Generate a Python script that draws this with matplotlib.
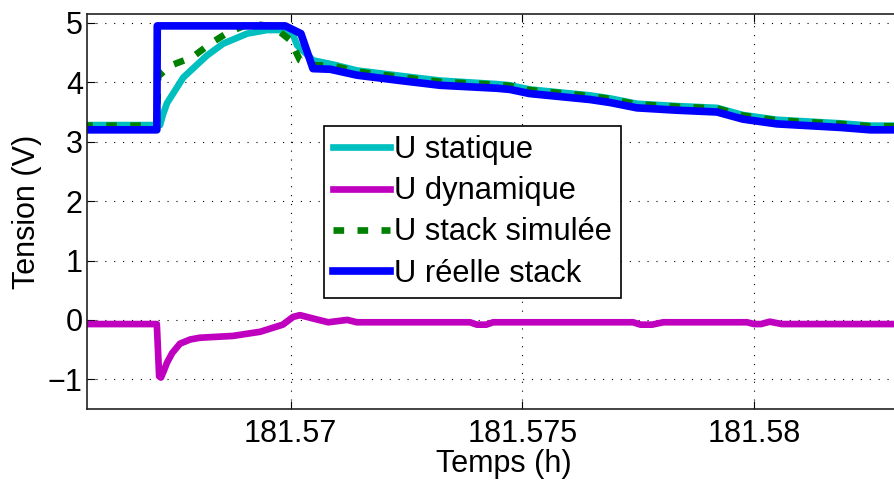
import matplotlib.pyplot as plt

plt.rcParams['font.family'] = ['Liberation Sans', 'DejaVu Sans']

t_reel = [181.5655, 181.56711, 181.56712, 181.56988, 181.57022, 181.57048, 181.57085,
          181.57143, 181.57236, 181.57322, 181.57445, 181.57473, 181.57516, 181.57646,
          181.57689, 181.57747, 181.57834, 181.57920, 181.57976, 181.58049, 181.58186,
          181.58251, 181.58360]
u_reel = [3.20, 3.20, 4.95, 4.95, 4.82, 4.23, 4.22,
          4.12, 4.03, 3.95, 3.90, 3.88, 3.81, 3.71,
          3.66, 3.57, 3.53, 3.50, 3.38, 3.30, 3.24,
          3.20, 3.20]

t_stat = [181.5655, 181.56718, 181.56724, 181.56733, 181.56768, 181.56819, 181.56854,
          181.56906, 181.56949, 181.56977, 181.57005, 181.57014, 181.57042, 181.57048,
          181.57091, 181.57143, 181.57236, 181.57322, 181.57445, 181.57473, 181.57516,
          181.57646, 181.57689, 181.57747, 181.57834, 181.57920, 181.57976, 181.58049,
          181.58186, 181.58251, 181.58360]
u_stat = [3.28, 3.28, 3.45, 3.65, 4.08, 4.45, 4.65,
          4.82, 4.88, 4.88, 4.80, 4.62, 4.42, 4.37,
          4.30, 4.20, 4.11, 4.03, 3.97, 3.95, 3.88,
          3.78, 3.73, 3.64, 3.60, 3.57, 3.45, 3.37,
          3.31, 3.27, 3.27]

t_sim = [181.5655, 181.56711, 181.56714, 181.56740, 181.56787, 181.56830, 181.56865,
         181.56912, 181.56962, 181.56999, 181.57020, 181.57042, 181.57091, 181.57143,
         181.57236, 181.57322, 181.57445, 181.57473, 181.57516, 181.57646, 181.57689,
         181.57747, 181.57834, 181.57920, 181.57976, 181.58049, 181.58186, 181.58251,
         181.58360]
u_sim = [3.27, 3.27, 4.10, 4.28, 4.42, 4.67, 4.84,
         4.99, 4.94, 4.71, 4.37, 4.29, 4.28, 4.18,
         4.09, 4.01, 3.96, 3.94, 3.87, 3.77, 3.72,
         3.63, 3.59, 3.56, 3.44, 3.36, 3.30, 3.26,
         3.26]

t_dyn = [181.5655, 181.56711, 181.56716, 181.56720, 181.56726, 181.56733, 181.56744,
         181.56761, 181.56783, 181.56804, 181.56875, 181.56934, 181.56983, 181.57005,
         181.57020, 181.57050, 181.57081, 181.57122, 181.57143, 181.57387, 181.57402,
         181.57422, 181.57437, 181.57739, 181.57755, 181.57780, 181.57804, 181.57985,
         181.58000, 181.58015, 181.58034, 181.58060, 181.58080, 181.58360]
u_dyn = [-0.07, -0.07, -0.95, -0.97, -0.86, -0.72, -0.56,
         -0.40, -0.33, -0.30, -0.27, -0.20, -0.08, 0.05,
         0.08, 0.02, -0.04, 0.00, -0.04, -0.04, -0.08,
         -0.08, -0.04, -0.04, -0.08, -0.08, -0.04, -0.04,
         -0.07, -0.07, -0.03, -0.07, -0.07, -0.07]

fig = plt.figure(figsize=(8.95, 4.8), dpi=100)
# l'axe déborde à droite de la figure
ax = fig.add_axes([87/895, 71/480, 833/895, 395/480])

ax.plot(t_stat, u_stat, color=(0, 0.75, 0.75), lw=4.8, label='U statique')
ax.plot(t_dyn, u_dyn, color=(0.75, 0, 0.75), lw=4.8, label='U dynamique')
ax.plot(t_sim, u_sim, color=(0, 0.5, 0), lw=4.8, ls=(0, (1.6, 2.0)), label='U stack simulée')
ax.plot(t_reel, u_reel, color='b', lw=5.5, label='U réelle stack')

ax.set_xlim(181.565603, 181.583582)
ax.set_ylim(-1.5, 5.15)
ax.set_xticks([181.57, 181.575, 181.58])
ax.set_xticklabels(['181.57', '181.575', '181.58'])
ax.set_yticks(range(-1, 6))
ax.set_yticklabels(['\u22121', '0', '1', '2', '3', '4', '5'])
ax.tick_params(direction='in', length=6, width=0.8, labelsize=22, top=True, right=True)
ax.tick_params(axis='x', pad=7)
ax.tick_params(axis='y', pad=3)
for s in ax.spines.values():
    s.set_linewidth(1.2)
    s.set_color('#222222')
ax.grid(True, color='k', lw=0.8, ls=(0, (1, 7)))

ax.set_xlabel('Temps (h)', fontsize=22, labelpad=0)
ax.set_ylabel('Tension (V)', fontsize=22, labelpad=4)

leg = ax.legend(loc='upper left', bbox_to_anchor=(0.2845, 0.7165), borderaxespad=0,
                fontsize=22.2, fancybox=False, framealpha=1, edgecolor='k',
                handlelength=1.85, handletextpad=0.13, labelspacing=0.36, borderpad=0.3)
leg.get_frame().set_linewidth(1.2)

fig.savefig('out.png', dpi=100)
